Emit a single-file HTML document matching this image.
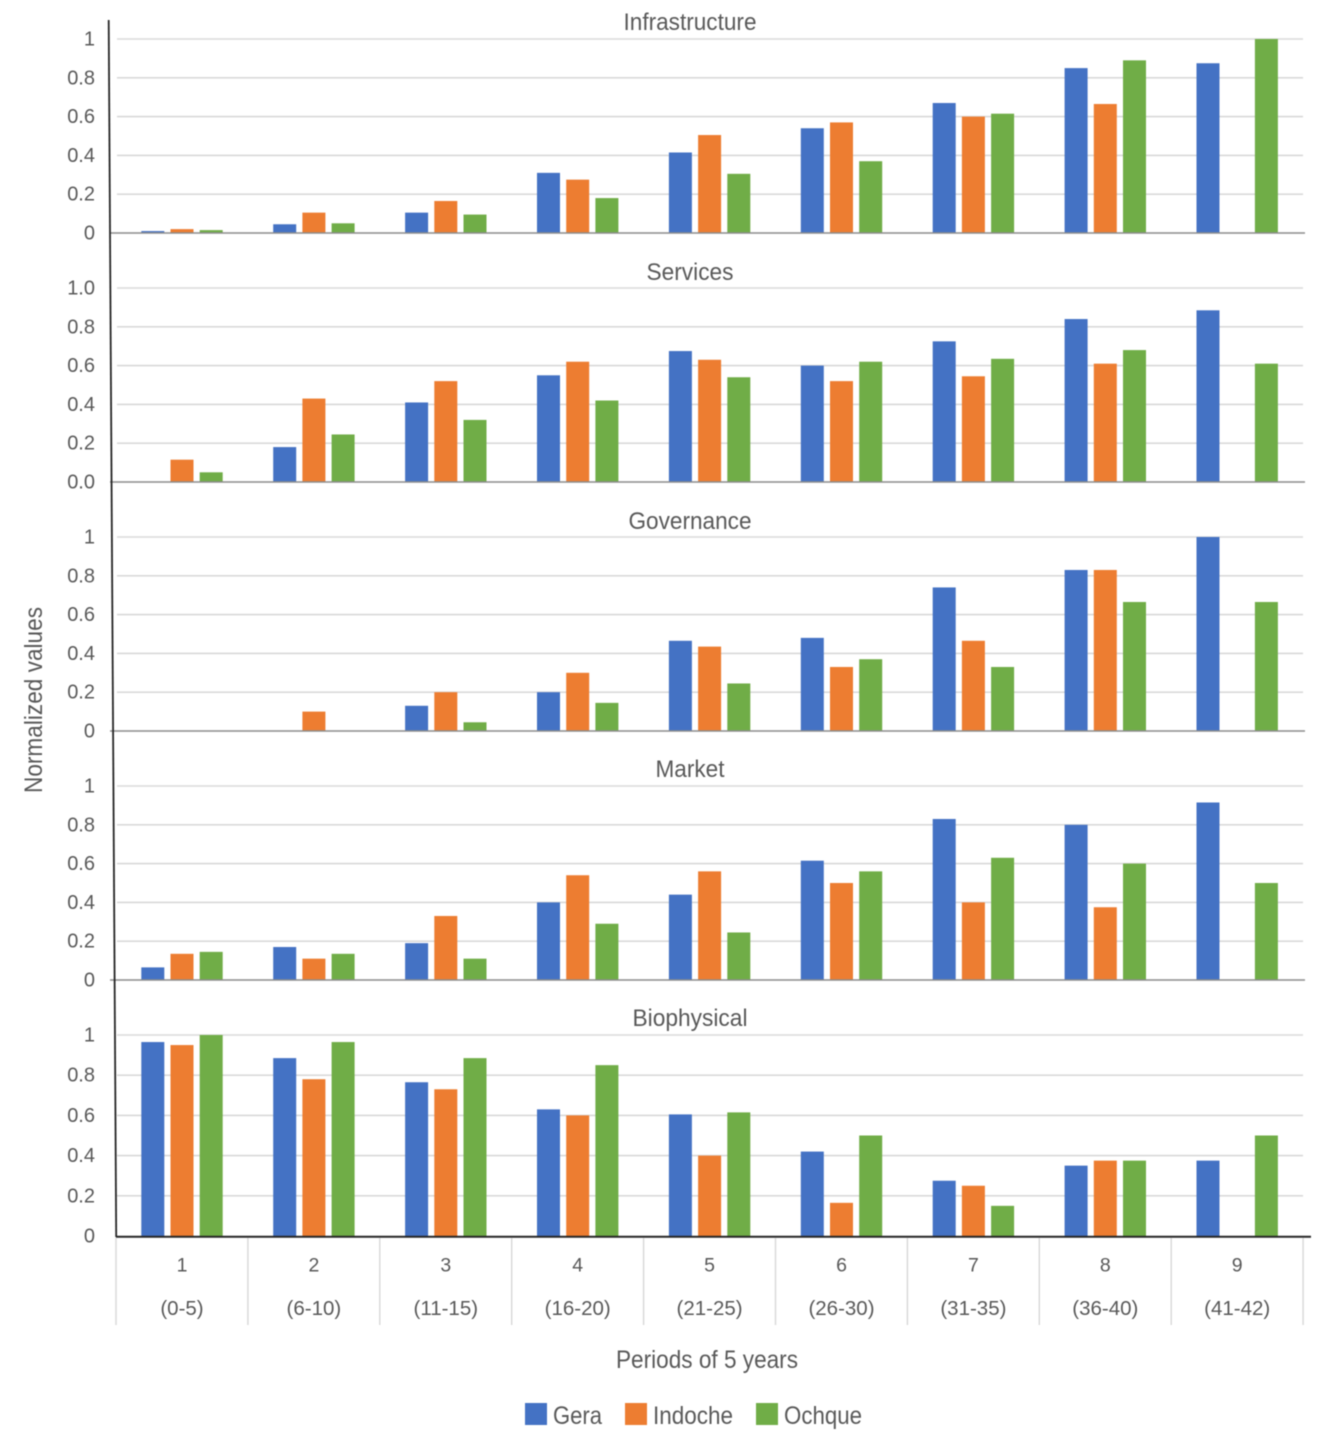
<!DOCTYPE html>
<html lang="en">
<head>
<meta charset="utf-8">
<title>Normalized values by period</title>
<style>
html,body{margin:0;padding:0;background:#fff;width:1325px;height:1438px;overflow:hidden}
svg{display:block;filter:blur(.45px)}
text{font-family:"Liberation Sans",sans-serif;fill:#595959}
</style>
</head>
<body>
<svg id="chart" width="1325" height="1438" viewBox="0 0 1325 1438" xmlns="http://www.w3.org/2000/svg"></svg>
<script>
const periods = ["1","2","3","4","5","6","7","8","9"];
const ranges = ["(0-5)","(6-10)","(11-15)","(16-20)","(21-25)","(26-30)","(31-35)","(36-40)","(41-42)"];
const seriesNames = ["Gera","Indoche","Ochque"];
const infrastructureGera = [0.01,0.045,0.105,0.31,0.415,0.54,0.67,0.85,0.875];
const infrastructureIndoche = [0.02,0.105,0.165,0.275,0.505,0.57,0.6,0.665,0];
const infrastructureOchque = [0.015,0.05,0.095,0.18,0.305,0.37,0.615,0.89,1];
const servicesGera = [0,0.18,0.41,0.55,0.675,0.6,0.725,0.84,0.885];
const servicesIndoche = [0.115,0.43,0.52,0.62,0.63,0.52,0.545,0.61,0];
const servicesOchque = [0.05,0.245,0.32,0.42,0.54,0.62,0.635,0.68,0.61];
const governanceGera = [0,0,0.13,0.2,0.465,0.48,0.74,0.83,1];
const governanceIndoche = [0,0.1,0.2,0.3,0.435,0.33,0.465,0.83,0];
const governanceOchque = [0,0,0.045,0.145,0.245,0.37,0.33,0.665,0.665];
const marketGera = [0.065,0.17,0.19,0.4,0.44,0.615,0.83,0.8,0.915];
const marketIndoche = [0.135,0.11,0.33,0.54,0.56,0.5,0.4,0.375,0];
const marketOchque = [0.145,0.135,0.11,0.29,0.245,0.56,0.63,0.6,0.5];
const biophysicalGera = [0.965,0.885,0.765,0.63,0.605,0.42,0.275,0.35,0.375];
const biophysicalIndoche = [0.95,0.78,0.73,0.6,0.4,0.165,0.25,0.375,0];
const biophysicalOchque = [1,0.965,0.885,0.85,0.615,0.5,0.15,0.375,0.5];
const tickValues = [0,0.2,0.4,0.6,0.8,1];
const tickLabels = ["0","0.2","0.4","0.6","0.8","1"];
const servicesTickLabels = ["0.0","0.2","0.4","0.6","0.8","1.0"];

const colors = ["#4472c4","#ed7d31","#70ad47"];
const panels = [
  {key:"infrastructure",title:"Infrastructure",titleW:133,y0:233,y1:39,ty:30,labels:tickLabels,series:[infrastructureGera,infrastructureIndoche,infrastructureOchque]},
  {key:"services",title:"Services",titleW:87,y0:482,y1:288,ty:280,labels:servicesTickLabels,series:[servicesGera,servicesIndoche,servicesOchque]},
  {key:"governance",title:"Governance",titleW:123,y0:731,y1:537,ty:529,labels:tickLabels,series:[governanceGera,governanceIndoche,governanceOchque]},
  {key:"market",title:"Market",titleW:69,y0:980,y1:786,ty:777,labels:tickLabels,series:[marketGera,marketIndoche,marketOchque]},
  {key:"biophysical",title:"Biophysical",titleW:115,y0:1236,y1:1035,ty:1026,labels:tickLabels,series:[biophysicalGera,biophysicalIndoche,biophysicalOchque]}
];

const svg = document.getElementById("chart");
const NS = "http://www.w3.org/2000/svg";
function add(tag, attrs, txt){
  const e = document.createElementNS(NS, tag);
  for (const k in attrs) e.setAttribute(k, attrs[k]);
  if (txt !== undefined) e.textContent = txt;
  svg.appendChild(e);
  return e;
}
const groupStep = 131.9, groupStart = 182, barW = 23, barGap = 29.2;
function xCenter(i){ return groupStart + groupStep * i; }
function barX(i, s){ return xCenter(i) + (s - 1) * barGap - barW / 2; }
function yScale(p, v){ return p.y0 + (p.y1 - p.y0) * v; }

panels.forEach(function(p, pi){
  tickValues.forEach(function(v, ti){
    const y = yScale(p, v);
    if (v > 0) {
      const g = add("line",{x1:117,x2:1303,y1:y,y2:y,stroke:"#d9d9d9","stroke-width":1.6});
      
      
    }
    const t = add("text",{x:95,y:y+6.5,"text-anchor":"end","font-size":20}, p.labels[ti]);
    
    
  });
  const title = add("text",{x:690,y:p.ty,"text-anchor":"middle","font-size":24,textLength:p.titleW,lengthAdjust:"spacingAndGlyphs"}, p.title);
  
  
  p.series.forEach(function(vals, s){
    vals.forEach(function(v, i){
      if (v <= 0) return;
      const top = yScale(p, v);
      const r = add("rect",{x:barX(i,s),y:top,width:barW,height:p.y0-top,fill:colors[s]});
      
      
    });
  });
  const last = pi === panels.length - 1;
  const base = add("line",{x1:last?116:110,x2:last?1311:1305,y1:p.y0+(last?0.8:0),y2:p.y0+(last?0.8:0),stroke:last?"#262626":"#8c8c8c","stroke-width":last?2:1.6});
  
  
});

const yAxis = add("line",{x1:108.7,y1:20,x2:116.2,y2:1237,stroke:"#262626","stroke-width":1.8});



for (let i = 0; i <= periods.length; i++) {
  const x = 116 + groupStep * i;
  const sep = add("line",{x1:x,x2:x,y1:1238,y2:1325,stroke:"#d9d9d9","stroke-width":1.5});
  
  
}
periods.forEach(function(lbl, i){
  const a = add("text",{x:xCenter(i),y:1271.5,"text-anchor":"middle","font-size":19.5}, lbl);
  
  
  const b = add("text",{x:xCenter(i),y:1315,"text-anchor":"middle","font-size":20.5}, ranges[i]);
  
  
});

const xTitle = add("text",{x:707,y:1368,"text-anchor":"middle","font-size":25,textLength:182,lengthAdjust:"spacingAndGlyphs"}, "Periods of 5 years");


const yTitle = add("text",{x:0,y:0,"text-anchor":"middle","font-size":25,textLength:186,lengthAdjust:"spacingAndGlyphs",transform:"translate(42,700) rotate(-90)"}, "Normalized values");



const legendSwatchX = [525,625,756];
const legendTextW = [49,80,78];
seriesNames.forEach(function(n, s){
  const sw = add("rect",{x:legendSwatchX[s],y:1403,width:22,height:22,fill:colors[s]});
  
  
  const t = add("text",{x:legendSwatchX[s]+28,y:1424,"font-size":25,textLength:legendTextW[s],lengthAdjust:"spacingAndGlyphs"}, n);
  
  
});
</script>
</body>
</html>
